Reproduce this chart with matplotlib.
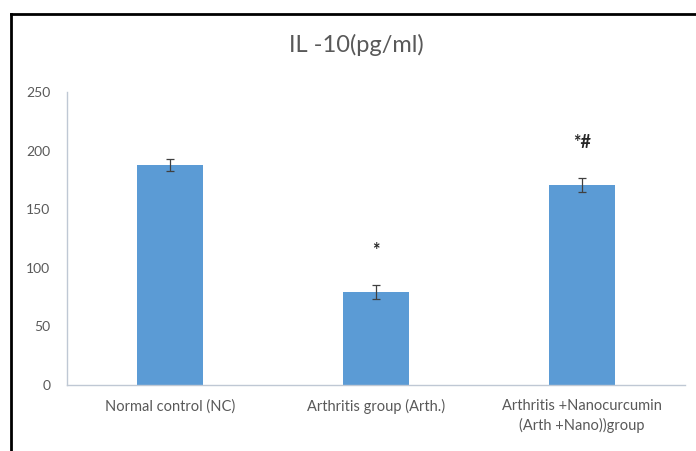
import matplotlib
matplotlib.use("Agg")
import matplotlib.pyplot as plt
from matplotlib.lines import Line2D

categories = ["Normal control (NC)", "Arthritis group (Arth.)",
              "Arthritis +Nanocurcumin\n(Arth +Nano))group"]
values = [188, 79, 171]
errors = [5, 6, 6]
marks = ["", "*", "*#"]
yticks = [0, 50, 100, 150, 200, 250]

plt.rcParams['font.family'] = ['Lato', 'DejaVu Sans']
grey = '#595959'

fig = plt.figure(figsize=(6.96, 4.51), dpi=100)
ax = fig.add_axes([67/696, 1-385/451, (685-67)/696, (385-92)/451])

x = range(len(categories))
ax.bar(x, values, width=0.32, color='#5B9BD5', zorder=2)
ax.errorbar(x, values, yerr=errors, fmt='none', ecolor='#404040',
            elinewidth=0.9, capsize=3, capthick=0.9, zorder=3)
for xi, v, e, m in zip(x, values, errors, marks):
    if m:
        ax.text(xi, v + e + 30, m, ha='center', va='center',
                fontsize=13, color='#262626', fontweight='bold')

ax.set_xlim(-0.5, len(categories) - 0.5)
ax.set_ylim(0, 250)
ax.set_yticks(yticks)
ax.set_xticks(list(x))
ax.set_xticklabels(categories, fontsize=10.5, color=grey, linespacing=1.45)
ax.tick_params(axis='y', labelsize=10, labelcolor=grey, length=0, pad=12)
ax.tick_params(axis='x', length=0, pad=10)
for s in ['top', 'right']:
    ax.spines[s].set_visible(False)
for s in ['left', 'bottom']:
    ax.spines[s].set_color('#BFC8D4')
    ax.spines[s].set_linewidth(1.0)

fig.text(356/696, 1-45/451, "IL -10(pg/ml)", ha='center', va='center',
         fontsize=17, color=grey)

# frame border (left and top)
fig.add_artist(Line2D([11/696, 11/696], [0, 1-14/451], transform=fig.transFigure,
                      color='black', linewidth=2))
fig.add_artist(Line2D([11/696, 1], [1-14/451, 1-14/451], transform=fig.transFigure,
                      color='black', linewidth=2))

fig.savefig("out.png", dpi=100)
